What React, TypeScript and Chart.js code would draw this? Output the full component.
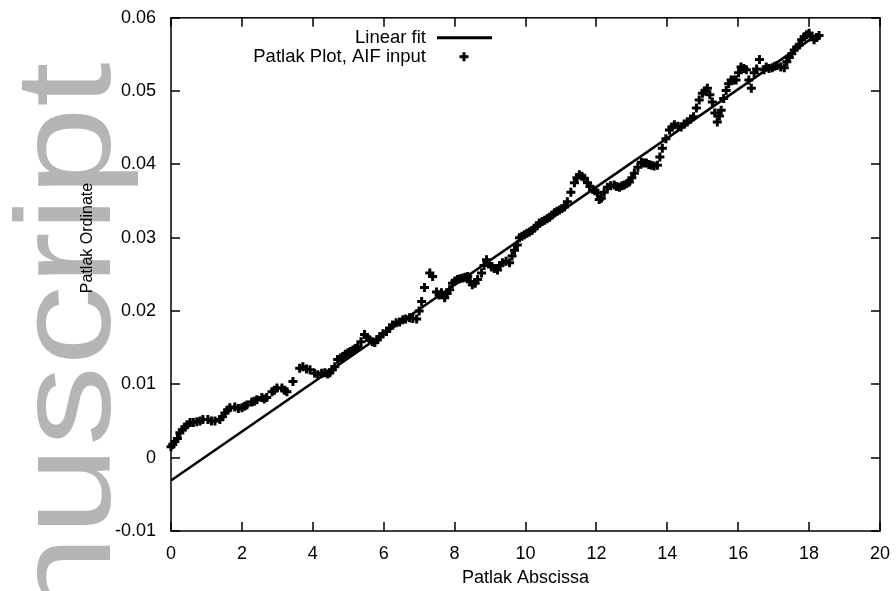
import React, { useEffect, useRef } from "react";
import { Chart, registerables } from "chart.js";

Chart.register(...registerables);

// ---- data ----
const xTickValues = [0, 2, 4, 6, 8, 10, 12, 14, 16, 18, 20];
const yTickValues = [-0.01, 0, 0.01, 0.02, 0.03, 0.04, 0.05, 0.06];

const patlakX = [
  0.00, 0.05, 0.11, 0.18, 0.25, 0.32, 0.39, 0.46, 0.54, 0.63,
  0.73, 0.82, 0.90, 1.04, 1.14, 1.24, 1.38, 1.45, 1.52, 1.60,
  1.66, 1.80, 1.90, 2.00, 2.07, 2.14, 2.28, 2.35, 2.42, 2.56,
  2.63, 2.70, 2.85, 2.92, 2.99, 3.13, 3.20, 3.27, 3.44, 3.63,
  3.72, 3.82, 3.92, 4.05, 4.14, 4.25, 4.34, 4.42, 4.48, 4.55,
  4.62, 4.70, 4.78, 4.85, 4.92, 4.99, 5.06, 5.13, 5.20, 5.27,
  5.36, 5.46, 5.53, 5.60, 5.68, 5.75, 5.82, 5.89, 5.98, 6.08,
  6.17, 6.25, 6.35, 6.45, 6.54, 6.62, 6.73, 6.82, 6.93, 7.00,
  7.07, 7.15, 7.30, 7.38, 7.49, 7.56, 7.63, 7.72, 7.79, 7.86,
  7.94, 8.01, 8.08, 8.15, 8.23, 8.30, 8.37, 8.44, 8.50, 8.58,
  8.65, 8.76, 8.83, 8.90, 8.97, 9.04, 9.12, 9.21, 9.28, 9.35,
  9.45, 9.55, 9.62, 9.69, 9.77, 9.83, 9.90, 9.97, 10.04, 10.11,
  10.18, 10.25, 10.32, 10.39, 10.47, 10.54, 10.61, 10.68, 10.75, 10.82,
  10.89, 10.96, 11.03, 11.10, 11.18, 11.28, 11.38, 11.45, 11.52, 11.59,
  11.66, 11.75, 11.82, 11.89, 11.96, 12.03, 12.08, 12.14, 12.22, 12.31,
  12.40, 12.50, 12.57, 12.65, 12.72, 12.79, 12.86, 12.93, 13.00, 13.07,
  13.17, 13.27, 13.34, 13.41, 13.48, 13.55, 13.63, 13.72, 13.79, 13.86,
  13.96, 14.06, 14.13, 14.20, 14.30, 14.39, 14.48, 14.56, 14.66, 14.74,
  14.82, 14.90, 14.99, 15.06, 15.13, 15.20, 15.27, 15.34, 15.41, 15.47,
  15.52, 15.59, 15.66, 15.73, 15.80, 15.87, 15.94, 16.01, 16.08, 16.16,
  16.23, 16.30, 16.37, 16.45, 16.52, 16.60, 16.73, 16.79, 16.87, 16.96,
  17.03, 17.10, 17.20, 17.30, 17.37, 17.44, 17.51, 17.58, 17.65, 17.72,
  17.79, 17.86, 17.93, 18.00, 18.07, 18.14, 18.21, 18.28,
];

const patlakY = [
  0.0015, 0.0018, 0.0022, 0.0026, 0.0034, 0.0038, 0.0042, 0.0045, 0.0048, 0.0048,
  0.0049, 0.0050, 0.0052, 0.0052, 0.0050, 0.0050, 0.0052, 0.0056, 0.0061, 0.0065,
  0.0068, 0.0069, 0.0067, 0.0068, 0.0070, 0.0072, 0.0076, 0.0077, 0.0079, 0.0082,
  0.0080, 0.0082, 0.0090, 0.0092, 0.0095, 0.0095, 0.0092, 0.0090, 0.0104, 0.0122,
  0.0124, 0.0121, 0.0120, 0.0115, 0.0113, 0.0115, 0.0116, 0.0114, 0.0116, 0.0120,
  0.0124, 0.0134, 0.0136, 0.0138, 0.0141, 0.0143, 0.0145, 0.0147, 0.0149, 0.0151,
  0.0158, 0.0168, 0.0164, 0.0161, 0.0158, 0.0157, 0.0161, 0.0165, 0.0169, 0.0172,
  0.0177, 0.0181, 0.0184, 0.0185, 0.0188, 0.0189, 0.0191, 0.0190, 0.0189, 0.0200,
  0.0213, 0.0232, 0.0252, 0.0247, 0.0226, 0.0222, 0.0225, 0.0218, 0.0224, 0.0229,
  0.0238, 0.0241, 0.0243, 0.0244, 0.0245, 0.0246, 0.0247, 0.0240, 0.0236, 0.0238,
  0.0243, 0.0252, 0.0262, 0.0270, 0.0265, 0.0260, 0.0258, 0.0256, 0.0262, 0.0266,
  0.0268, 0.0266, 0.0275, 0.0283, 0.0290, 0.0300, 0.0302, 0.0304, 0.0306, 0.0308,
  0.0310, 0.0313, 0.0316, 0.0320, 0.0322, 0.0324, 0.0326, 0.0328, 0.0331, 0.0334,
  0.0336, 0.0338, 0.0340, 0.0342, 0.0349, 0.0362, 0.0375, 0.0382, 0.0386, 0.0384,
  0.0381, 0.0375, 0.0370, 0.0366, 0.0364, 0.0361, 0.0352, 0.0354, 0.0362, 0.0369,
  0.0371, 0.0372, 0.0370, 0.0369, 0.0371, 0.0372, 0.0374, 0.0376, 0.0382, 0.0388,
  0.0396, 0.0403, 0.0402, 0.0402, 0.0400, 0.0399, 0.0398, 0.0399, 0.0410, 0.0422,
  0.0435, 0.0447, 0.0451, 0.0454, 0.0452, 0.0451, 0.0455, 0.0458, 0.0462, 0.0465,
  0.0477, 0.0488, 0.0497, 0.0500, 0.0504, 0.0495, 0.0485, 0.0470, 0.0458, 0.0466,
  0.0474, 0.0490, 0.0501, 0.0510, 0.0515, 0.0515, 0.0515, 0.0525, 0.0533, 0.0531,
  0.0529, 0.0515, 0.0504, 0.0525, 0.0530, 0.0543, 0.0529, 0.0533, 0.0531, 0.0532,
  0.0534, 0.0535, 0.0533, 0.0532, 0.0540, 0.0546, 0.0551, 0.0556, 0.0560, 0.0563,
  0.0570, 0.0574, 0.0577, 0.0579, 0.0575, 0.0570, 0.0573, 0.0576,
];

const fitX = [0, 18.2];
const fitY = [-0.0031, 0.0576];

const legendLabels = ["Linear fit", "Patlak Plot, AIF input"];
const xAxisTitle = "Patlak Abscissa";
const yAxisTitle = "Patlak Ordinate";
const watermarkText = "Manuscript";

// ---- styling ----
const FONT = '"Liberation Sans", Arial, Helvetica, sans-serif';
const W = 896;
const H = 591;
const TARGET = { left: 171, top: 17, right: 880, bottom: 531 };

const watermarkPlugin = {
  id: "watermark",
  beforeDraw(chart: any) {
    const ctx = chart.ctx;
    ctx.save();
    ctx.translate(110, 848);
    ctx.rotate(-Math.PI / 2);
    ctx.scale(1.19, 1);
    ctx.font = `135px ${FONT}`;
    ctx.fillStyle = "#b5b5b5";
    ctx.textAlign = "left";
    ctx.textBaseline = "alphabetic";
    ctx.fillText(watermarkText, 0, 0);
    ctx.restore();
  },
};

const framePlugin = {
  id: "frameTicks",
  afterDatasetsDraw(chart: any) {
    const ctx = chart.ctx;
    const { left, right, top, bottom } = chart.chartArea;
    const xs = chart.scales.x;
    const ys = chart.scales.y;
    const tl = 9;
    ctx.save();
    ctx.strokeStyle = "#000";
    ctx.lineWidth = 1.5;
    ctx.strokeRect(left, top, right - left, bottom - top);
    ctx.beginPath();
    xTickValues.forEach((v) => {
      const p = Math.round(xs.getPixelForValue(v));
      ctx.moveTo(p, bottom);
      ctx.lineTo(p, bottom - tl);
      ctx.moveTo(p, top);
      ctx.lineTo(p, top + tl);
    });
    yTickValues.forEach((v) => {
      const p = Math.round(ys.getPixelForValue(v));
      ctx.moveTo(left, p);
      ctx.lineTo(left + tl, p);
      ctx.moveTo(right, p);
      ctx.lineTo(right - tl, p);
    });
    ctx.stroke();
    ctx.restore();
  },
};

const annotationPlugin = {
  id: "titlesLegend",
  afterDraw(chart: any) {
    const ctx = chart.ctx;
    const { left, right, top } = chart.chartArea;
    ctx.save();
    ctx.fillStyle = "#000";
    // x title
    ctx.font = `18px ${FONT}`;
    ctx.textAlign = "center";
    ctx.textBaseline = "middle";
    ctx.fillText(xAxisTitle, (left + right) / 2, 578);
    // y title
    ctx.save();
    ctx.translate(88, 238);
    ctx.rotate(-Math.PI / 2);
    ctx.font = `16px ${FONT}`;
    ctx.fillText(yAxisTitle, 0, 0);
    ctx.restore();
    // legend
    ctx.font = `18.5px ${FONT}`;
    ctx.textAlign = "right";
    ctx.textBaseline = "middle";
    const textRight = left + 255;
    ctx.fillText(legendLabels[0], textRight, top + 20);
    ctx.fillText(legendLabels[1], textRight, top + 39);
    ctx.strokeStyle = "#000";
    ctx.lineWidth = 3;
    ctx.beginPath();
    ctx.moveTo(textRight + 11, top + 20);
    ctx.lineTo(textRight + 66, top + 20);
    ctx.stroke();
    // cross sample
    const cx = textRight + 38;
    const cy = top + 39;
    ctx.lineWidth = 3;
    ctx.beginPath();
    ctx.moveTo(cx - 4.5, cy);
    ctx.lineTo(cx + 4.5, cy);
    ctx.moveTo(cx, cy - 4.5);
    ctx.lineTo(cx, cy + 4.5);
    ctx.stroke();
    ctx.restore();
  },
};

export default function App() {
  const canvasRef = useRef<HTMLCanvasElement | null>(null);

  useEffect(() => {
    if (!canvasRef.current) return;
    const padding = { left: 0, right: W - TARGET.right, top: TARGET.top, bottom: 0 };
    const chart = new Chart(canvasRef.current, {
      type: "scatter",
      data: {
        datasets: [
          {
            label: legendLabels[1],
            data: patlakX.map((x, i) => ({ x, y: patlakY[i] })),
            showLine: false,
            pointStyle: "cross",
            pointRadius: 4.5,
            pointBorderWidth: 3,
            borderColor: "#000",
            backgroundColor: "#000",
            clip: false as any,
          },
          {
            label: legendLabels[0],
            data: fitX.map((x, i) => ({ x, y: fitY[i] })),
            showLine: true,
            pointRadius: 0,
            borderWidth: 2.5,
            borderColor: "#000",
          },
        ],
      },
      options: {
        animation: false,
        responsive: false,
        devicePixelRatio: 1,
        layout: { padding },
        plugins: {
          legend: { display: false },
          tooltip: { enabled: false },
          title: { display: false },
        },
        scales: {
          x: {
            type: "linear",
            min: 0,
            max: 20,
            grid: { display: false },
            border: { display: false },
            afterBuildTicks: (scale: any) => {
              scale.ticks = xTickValues.map((v) => ({ value: v }));
            },
            afterFit: (scale: any) => {
              scale.height = 60;
            },
            ticks: {
              autoSkip: false,
              maxRotation: 0,
              padding: 4,
              color: "#000",
              font: { family: FONT, size: 18 },
              callback: (v: any) => String(v),
            },
          },
          y: {
            type: "linear",
            min: -0.01,
            max: 0.06,
            grid: { display: false },
            border: { display: false },
            afterBuildTicks: (scale: any) => {
              scale.ticks = yTickValues.map((v) => ({ value: v }));
            },
            afterFit: (scale: any) => {
              scale.width = 171;
            },
            ticks: {
              autoSkip: false,
              padding: 7,
              color: "#000",
              font: { family: FONT, size: 18 },
              callback: (v: any) => String(Number(Number(v).toFixed(2))),
            },
          },
        },
      },
      plugins: [watermarkPlugin, framePlugin, annotationPlugin],
    });

    // Nudge layout padding so the plot area lands on the target box.
    const area = chart.chartArea;
    const dTop = area.top - TARGET.top;
    const dRight = TARGET.right - area.right;
    const dBottom = area.bottom - TARGET.bottom;
    if (Math.abs(dTop) > 0.5 || Math.abs(dRight) > 0.5 || Math.abs(dBottom) > 0.5) {
      const p: any = (chart.options.layout as any).padding;
      p.top = Math.max(0, p.top - dTop);
      p.right = Math.max(0, p.right - dRight);
      p.bottom = Math.max(0, p.bottom + dBottom);
      chart.update();
    }
    return () => chart.destroy();
  }, []);

  return (
    <div style={{ position: "fixed", left: 0, top: 0, width: W, height: H, background: "#fff" }}>
      <canvas ref={canvasRef} width={W} height={H} style={{ width: W, height: H, display: "block" }} />
    </div>
  );
}
